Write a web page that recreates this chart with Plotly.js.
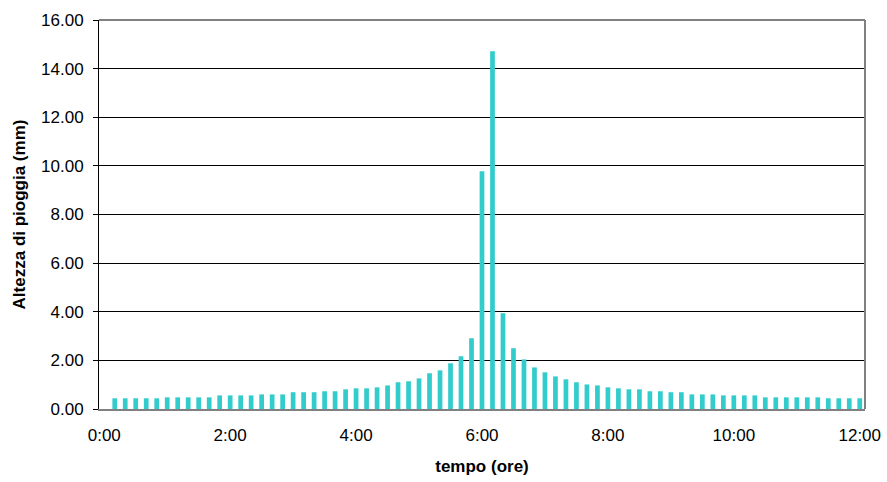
<!DOCTYPE html>
<html>
<head>
<meta charset="utf-8">
<script src="https://cdn.plot.ly/plotly-3.0.1.min.js"></script>
<style>html,body{margin:0;padding:0;background:#fff;}#chart{width:887px;height:482px;}</style>
</head>
<body>
<div id="chart"></div>
<script>
const times = [
  "0:10","0:20","0:30","0:40","0:50","1:00","1:10","1:20","1:30","1:40","1:50","2:00",
  "2:10","2:20","2:30","2:40","2:50","3:00","3:10","3:20","3:30","3:40","3:50","4:00",
  "4:10","4:20","4:30","4:40","4:50","5:00","5:10","5:20","5:30","5:40","5:50","6:00",
  "6:10","6:20","6:30","6:40","6:50","7:00","7:10","7:20","7:30","7:40","7:50","8:00",
  "8:10","8:20","8:30","8:40","8:50","9:00","9:10","9:20","9:30","9:40","9:50","10:00",
  "10:10","10:20","10:30","10:40","10:50","11:00","11:10","11:20","11:30","11:40","11:50","12:00"
];
const rain = [
  0.44,0.44,0.44,0.44,0.44,0.48,0.48,0.48,0.48,0.48,0.56,0.56,
  0.56,0.56,0.60,0.60,0.60,0.69,0.69,0.69,0.73,0.73,0.81,0.85,
  0.85,0.89,0.97,1.10,1.14,1.26,1.47,1.59,1.88,2.17,2.91,9.78,
  14.71,3.94,2.50,2.04,1.71,1.51,1.34,1.22,1.10,1.01,0.97,0.89,
  0.85,0.81,0.81,0.73,0.73,0.69,0.69,0.60,0.60,0.60,0.56,0.56,
  0.56,0.56,0.48,0.48,0.48,0.48,0.48,0.48,0.44,0.44,0.44,0.44
];
const tickLabels = ["0:00","2:00","4:00","6:00","8:00","10:00","12:00"];
const yTicks = [0,2,4,6,8,10,12,14,16];

function toMin(s){ const p = s.split(":"); return (+p[0])*60 + (+p[1]); }
const xMin = times.map(toMin);
const tickVals = tickLabels.map(toMin);

const font = {family: "Liberation Sans, Arial, sans-serif", color: "#000"};

const trace = {
  type: "bar",
  x: xMin,
  y: rain,
  marker: {color: "#33CCCC", line: {width: 0}},
  hoverinfo: "skip"
};

const layout = {
  width: 887, height: 482,
  margin: {l: 98.5, r: 22, t: 20, b: 73, pad: 0},
  paper_bgcolor: "#fff", plot_bgcolor: "#fff",
  showlegend: false,
  bargap: 0.55,
  font: Object.assign({size: 17}, font),
  xaxis: {
    type: "linear",
    range: [-5, 725],
    tickmode: "array", tickvals: tickVals, ticktext: tickLabels,
    ticks: "", showgrid: false, zeroline: false,
    showline: true, linecolor: "#808080", linewidth: 2,
    ticklabelstandoff: 10,
    tickfont: Object.assign({size: 17}, font),
    title: {text: "<b>tempo (ore)</b>", font: Object.assign({size: 17}, font), standoff: 16}
  },
  yaxis: {
    range: [0, 16],
    tickmode: "array", tickvals: yTicks,
    tickformat: ".2f",
    ticks: "outside", ticklen: 5, tickcolor: "#000", tickwidth: 1,
    showgrid: true, gridcolor: "#000", gridwidth: 1,
    zeroline: false,
    showline: true, linecolor: "#000", linewidth: 1,
    ticklabelstandoff: 6,
    tickfont: Object.assign({size: 17}, font),
    title: {text: "<b>Altezza di pioggia (mm)</b>", font: Object.assign({size: 17}, font), standoff: 11}
  },
  shapes: [
    {type: "line", xref: "paper", yref: "paper", x0: 0, x1: 1, y0: 1, y1: 1, line: {color: "#808080", width: 2}, layer: "above"},
    {type: "line", xref: "paper", yref: "paper", x0: 1, x1: 1, y0: 0, y1: 1, line: {color: "#808080", width: 2}, layer: "above"}
  ]
};

Plotly.newPlot("chart", [trace], layout, {displayModeBar: false, staticPlot: true});
</script>
</body>
</html>
